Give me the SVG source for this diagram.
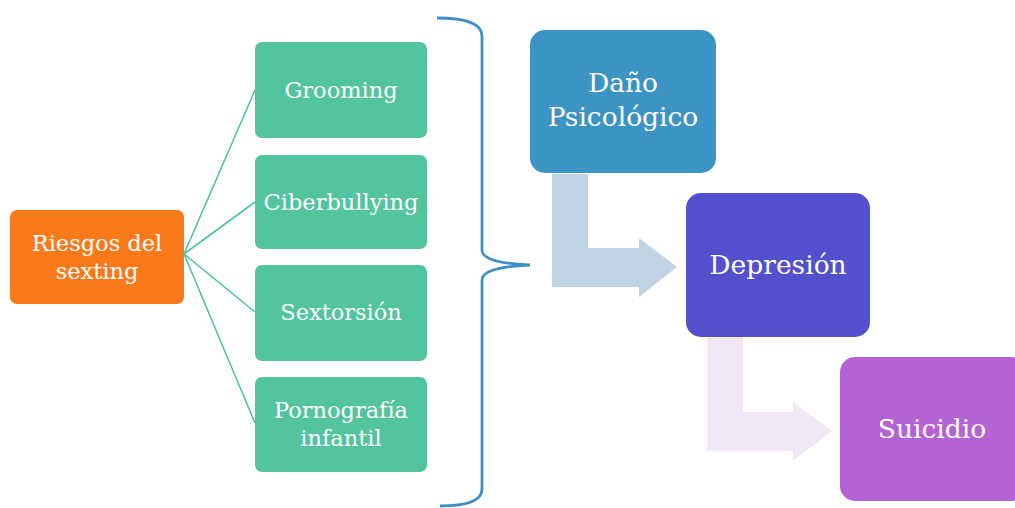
<svg xmlns="http://www.w3.org/2000/svg" width="1015" height="508" viewBox="0 0 1015 508">
<style>
text{font-family:"Rockwell","DejaVu Serif","Liberation Serif",serif;fill:#fff;text-anchor:middle}
.s{font-size:22.5px}
.b{font-size:26.5px}
.g{fill:#52C49E}
.ln{stroke:#52C4A0;stroke-width:1.6;fill:none}
</style>
<rect width="1015" height="508" fill="#fff"/>
<g id="connectors">
<path class="ln" d="M184 254 L255 90 M184 254 L255 202 M184 254 L255 312 M184 254 L255 423"/>
<path d="M437 18 Q482 18 482 36 L482 250 Q482 263 530 265 Q482 267 482 280 L482 489 Q482 506 440 506" fill="none" stroke="#3A8FC8" stroke-width="2.8"/>
<path d="M552 174 L588 174 L588 248 L639 248 L639 238 L677 267 L639 297 L639 287 L552 287 Z" fill="#C0D3E5"/>
<path d="M707 337 L743 337 L743 412 L793 412 L793 402 L832 431 L793 461 L793 451 L707 451 Z" fill="#F1E8F6"/>
</g>
<g id="riesgos">
<rect x="10" y="210" width="174" height="94" rx="7" fill="#FA7A1A"/>
<text class="s" x="97" y="251">Riesgos del</text>
<text class="s" x="97" y="279">sexting</text>
</g>
<g id="grooming">
<rect class="g" x="255" y="42" width="172" height="96" rx="7"/>
<text class="s" x="341" y="98">Grooming</text>
</g>
<g id="ciberbullying">
<rect class="g" x="255" y="155" width="172" height="94" rx="7"/>
<text class="s" x="341" y="210">Ciberbullying</text>
</g>
<g id="sextorsion">
<rect class="g" x="255" y="265" width="172" height="96" rx="7"/>
<text class="s" x="341" y="320">Sextorsión</text>
</g>
<g id="pornografia">
<rect class="g" x="255" y="377" width="172" height="95" rx="7"/>
<text class="s" x="341" y="418">Pornografía</text>
<text class="s" x="341" y="446">infantil</text>
</g>
<g id="dano">
<rect x="530" y="30" width="186" height="143" rx="15" fill="#3B94C4"/>
<text class="b" x="623" y="92">Daño</text>
<text class="b" x="623" y="126">Psicológico</text>
</g>
<g id="depresion">
<rect x="686" y="193" width="184" height="144" rx="15" fill="#5350CD"/>
<text class="b" x="778" y="274">Depresión</text>
</g>
<g id="suicidio">
<rect x="840" y="357" width="186" height="144" rx="15" fill="#B462D4"/>
<text class="b" x="932" y="438">Suicidio</text>
</g>
</svg>
